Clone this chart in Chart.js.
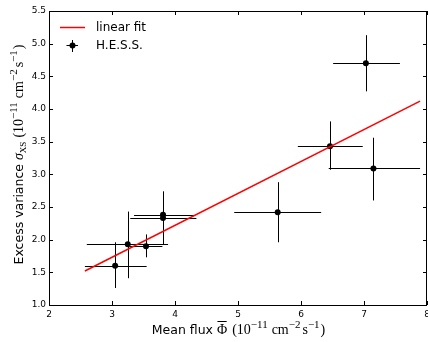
<!DOCTYPE html>
<html>
<head>
<meta charset="utf-8">
<script src="https://cdn.jsdelivr.net/npm/chart.js@4.4.1/dist/chart.umd.min.js"></script>
<style>
  html, body { margin: 0; padding: 0; background: #fff; }
  #wrap { width: 428px; height: 342px; }
</style>
</head>
<body>
<div id="wrap"><canvas id="myChart" width="428" height="342"></canvas></div>
<script>
// H.E.S.S. points: mean flux vs excess variance, with error bar ends
const fluxX = [3.05, 3.25, 3.54, 3.81, 3.81, 5.63, 6.46, 7.15, 7.03];
const varY = [1.60, 1.93, 1.90, 2.38, 2.33, 2.42, 3.43, 3.09, 4.70];
const xLo = [2.57, 2.60, 3.28, 3.35, 3.29, 4.94, 5.95, 6.44, 6.51];
const xHi = [3.55, 3.89, 3.80, 4.32, 4.34, 6.32, 6.98, 7.89, 7.57];
const yLo = [1.26, 1.41, 1.73, 2.01, 1.92, 1.96, 3.07, 2.60, 4.27];
const yHi = [1.96, 2.43, 2.08, 2.74, 2.72, 2.88, 3.81, 3.56, 5.13];

// linear fit end points
const fitX = [2.57, 7.89];
const fitY = [1.52, 4.12];

const xTicks = [2, 3, 4, 5, 6, 7, 8];
const yTicks = [1.0, 1.5, 2.0, 2.5, 3.0, 3.5, 4.0, 4.5, 5.0, 5.5];

const SANS = '"DejaVu Sans", sans-serif';
const SERIF = '"Liberation Serif", "DejaVu Serif", serif';
const big = '14px ' + SERIF;
const sup = '11px ' + SERIF;

// draws a list of text pieces one after another, centred on cx
const drawRich = (ctx, parts, cx, y) => {
    let total = 0;
    parts.forEach(p => {
        ctx.font = p.font || big;
        p.w = p.gap !== undefined ? p.gap : ctx.measureText(p.text).width;
        total += p.w;
    });
    let x = cx - total / 2;
    parts.forEach(p => {
        if (p.gap === undefined) {
            ctx.font = p.font || big;
            ctx.fillText(p.text, x, y + (p.dy || 0));
        }
        if (p.bar) {
            ctx.beginPath();
            ctx.lineWidth = 1;
            ctx.moveTo(x + 0.5, y - 12.5);
            ctx.lineTo(x + p.w - 0.5, y - 12.5);
            ctx.stroke();
        }
        x += p.w;
    });
};

const unitParts = () => [
    { text: '(10' },
    { text: '\u221211', font: sup, dy: -6 },
    { gap: 4 },
    { text: 'cm' },
    { text: '\u22122', font: sup, dy: -6 },
    { gap: 2 },
    { text: 's' },
    { text: '\u22121', font: sup, dy: -6 },
    { gap: 1 },
    { text: ')' },
];

const framePlugin = {
    id: 'frame',
    beforeDatasetsDraw(chart) {
        const { ctx, scales: { x, y } } = chart;
        ctx.save();
        ctx.strokeStyle = '#000';
        ctx.lineWidth = 1;
        // error bars
        fluxX.forEach((fx, i) => {
            const px = Math.round(x.getPixelForValue(fx)) + 0.5;
            const py = Math.round(y.getPixelForValue(varY[i])) + 0.5;
            ctx.beginPath();
            ctx.moveTo(x.getPixelForValue(xLo[i]), py);
            ctx.lineTo(x.getPixelForValue(xHi[i]), py);
            ctx.moveTo(px, y.getPixelForValue(yLo[i]));
            ctx.lineTo(px, y.getPixelForValue(yHi[i]));
            ctx.stroke();
        });
        ctx.restore();
    },
    afterDraw(chart) {
        const { ctx, chartArea: a, scales: { x, y } } = chart;
        ctx.save();
        ctx.strokeStyle = '#000';
        ctx.lineWidth = 1;
        ctx.strokeRect(a.left + 0.5, a.top + 0.5, a.right - a.left - 1, a.bottom - a.top);
        // inward ticks on all four sides
        ctx.beginPath();
        xTicks.forEach(v => {
            const px = Math.round(x.getPixelForValue(v)) + 0.5;
            ctx.moveTo(px, a.bottom); ctx.lineTo(px, a.bottom - 4);
            ctx.moveTo(px, a.top); ctx.lineTo(px, a.top + 4);
        });
        yTicks.forEach(v => {
            const py = Math.round(y.getPixelForValue(v)) + 0.5;
            ctx.moveTo(a.left, py); ctx.lineTo(a.left + 4, py);
            ctx.moveTo(a.right, py); ctx.lineTo(a.right - 4, py);
        });
        ctx.stroke();

        // legend
        ctx.strokeStyle = '#ff0000';
        ctx.lineWidth = 1.5;
        ctx.beginPath();
        ctx.moveTo(60, 27.5); ctx.lineTo(85, 27.5);
        ctx.stroke();
        ctx.strokeStyle = '#000';
        ctx.lineWidth = 1;
        ctx.beginPath();
        ctx.moveTo(66.5, 45.5); ctx.lineTo(78, 45.5);
        ctx.moveTo(72.5, 40); ctx.lineTo(72.5, 52);
        ctx.stroke();
        ctx.beginPath();
        ctx.arc(72.5, 45.5, 3, 0, Math.PI * 2);
        ctx.fillStyle = '#000';
        ctx.fill();
        ctx.font = '12px ' + SANS;
        ctx.textBaseline = 'middle';
        ctx.textAlign = 'left';
        ctx.fillText('linear fit', 96, 28);
        ctx.fillText('H.E.S.S.', 96, 46);

        // axis titles
        ctx.textBaseline = 'alphabetic';
        drawRich(ctx, [
            { text: 'Mean flux ', font: '12.5px ' + SANS },
            { text: '\u03A6', bar: true },
            { gap: 5 },
            ...unitParts(),
        ], 238.5, 334);

        ctx.translate(23, 154.5);
        ctx.rotate(-Math.PI / 2);
        drawRich(ctx, [
            { text: 'Excess variance ', font: '12.5px ' + SANS },
            { text: '\u03C3', font: 'italic ' + big },
            { text: 'XS', font: '9px ' + SERIF, dy: 3 },
            { gap: 4 },
            ...unitParts(),
        ], 0, 0);
        ctx.restore();
    }
};

const ctx = document.querySelector('#myChart');
new Chart(ctx, {
    type: 'scatter',
    data: {
        datasets: [
            {
                label: 'linear fit',
                type: 'line',
                data: fitX.map((v, i) => ({ x: v, y: fitY[i] })),
                borderColor: '#ff0000',
                borderWidth: 1.5,
                pointRadius: 0,
                fill: false,
            },
            {
                label: 'H.E.S.S.',
                data: fluxX.map((v, i) => ({ x: v, y: varY[i] })),
                backgroundColor: '#000',
                borderColor: '#000',
                pointRadius: 3,
                borderWidth: 0,
            },
        ],
    },
    options: {
        responsive: false,
        animation: false,
        layout: { autoPadding: false, padding: { top: 11, right: 1, left: 0, bottom: 0 } },
        plugins: {
            legend: { display: false },
            tooltip: { enabled: false },
        },
        scales: {
            x: {
                type: 'linear',
                min: 2,
                max: 8,
                afterFit: s => { s.height = 37; s.paddingLeft = 0; s.paddingRight = 0; },
                afterBuildTicks: s => { s.ticks = xTicks.map(v => ({ value: v })); },
                grid: { display: false, drawTicks: false },
                border: { display: false },
                ticks: {
                    padding: 4,
                    color: '#000',
                    font: { family: SANS, size: 9 },
                    callback: v => String(v),
                },
            },
            y: {
                type: 'linear',
                min: 1,
                max: 5.5,
                afterFit: s => { s.width = 49; s.paddingTop = 0; s.paddingBottom = 0; },
                afterBuildTicks: s => { s.ticks = yTicks.map(v => ({ value: v })); },
                grid: { display: false, drawTicks: false },
                border: { display: false },
                ticks: {
                    padding: 3,
                    color: '#000',
                    font: { family: SANS, size: 9 },
                    callback: v => v.toFixed(1),
                },
            },
        },
    },
    plugins: [framePlugin],
});
</script>
</body>
</html>
